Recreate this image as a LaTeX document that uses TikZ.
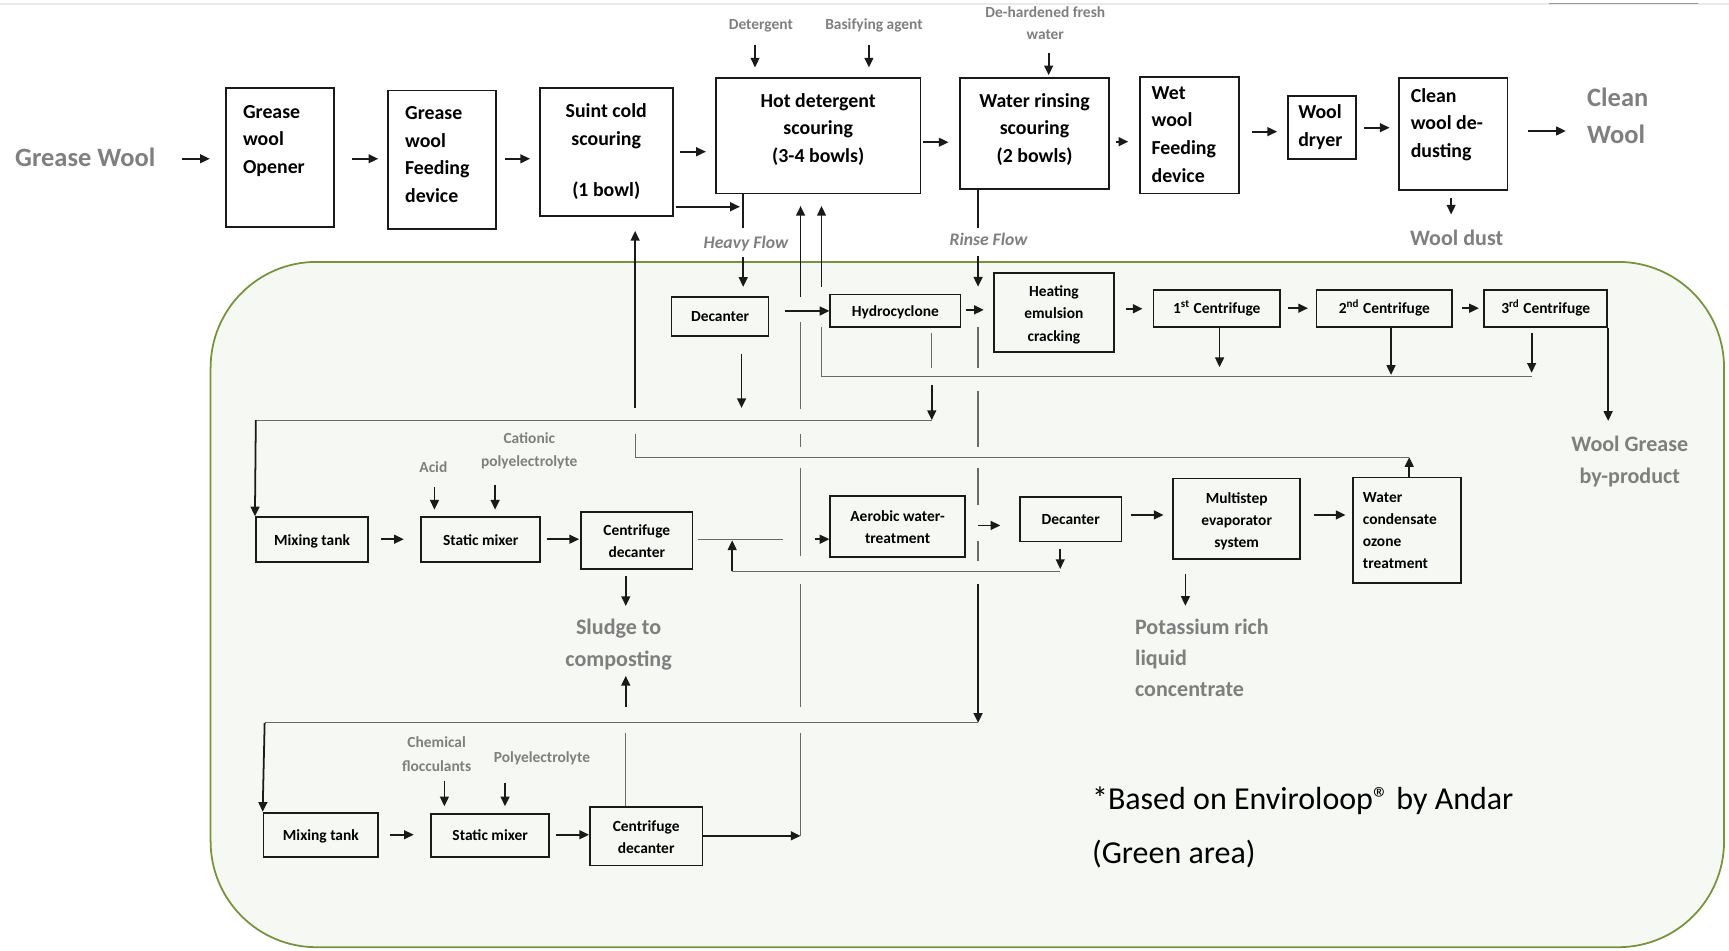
\documentclass[tikz,border=0pt]{standalone}
\usepackage{fontspec}
\setmainfont{Carlito}
\usetikzlibrary{arrows.meta}
\definecolor{ink}{HTML}{1A1A1A}
\definecolor{lab}{HTML}{7F7F7F}
\definecolor{thin}{HTML}{6A6A6A}
\definecolor{gborder}{HTML}{77933C}
\definecolor{gfill}{HTML}{F6F8F3}
\newcommand{\toppad}[1]{\rule{0pt}{#1}}
\begin{document}
\begin{tikzpicture}[x=0.5pt,y=-0.5pt,
 bx/.style={draw=ink,line width=0.8pt,inner sep=0pt},
 arr/.style={draw=ink,line width=0.8pt,-{Triangle[length=4.4pt,width=4pt]}},
 lk/.style={draw=ink,line width=0.8pt},
 ln/.style={draw=thin,line width=0.55pt},
 txt/.style={inner sep=0pt,execute at begin node=\strut,execute at end node=\strut},
 tt/.style={txt,text=black,font=\fontsize{9}{12.5}\selectfont\bfseries},
 st/.style={inner sep=0pt,execute at begin node={\rule{0pt}{8pt}\strut},execute at end node=\strut,
            text=black,align=center,font=\fontsize{7}{10}\selectfont\bfseries},
 gl/.style={txt,text=lab,align=center,font=\fontsize{7}{10.5}\selectfont\bfseries},
 gm/.style={txt,text=lab,font=\fontsize{10}{14.25}\selectfont\bfseries},
 gb/.style={txt,text=lab,font=\fontsize{12}{16.7}\selectfont\bfseries},
 fl/.style={txt,text=lab,font=\fontsize{8}{10}\selectfont\bfseries\itshape},
]
\useasboundingbox (0,0) rectangle (1568,862);
% top edge lines
\draw[draw=black!8,line width=1pt] (0,3.5) -- (1568,3.5);
\draw[draw=black!40,line width=0.7pt] (1405,3) -- (1540,3);
% green area
\node[draw=gborder,fill=gfill,line width=0.8pt,rounded corners=48pt,inner sep=0pt,
      minimum width=686.25pt,minimum height=310.75pt] (green) at (877.25,548.25) {};

% ---------- top row ----------
\node[gb,anchor=west] (gw) at (13.4,144) {Grease Wool};
\node[bx,minimum width=49pt,minimum height=63pt] (opener) at (254,143) {};
\node[tt,anchor=west,align=left] (openerT) at (220,130) {Grease\\wool\\Opener};
\node[bx,minimum width=48.8pt,minimum height=62.85pt] (feed) at (400.8,144.9) {};
\node[tt,anchor=west,align=left] (feedT) at (367,144) {Grease\\wool\\Feeding\\device};
\node[bx,minimum width=60.25pt,minimum height=58pt] (suint) at (549.75,138) {};
\node[tt,align=center] (suintT) at (549.75,140) {Suint cold\\scouring\\[11pt](1 bowl)};
\node[bx,minimum width=92.9pt,minimum height=52.2pt] (hot) at (741.9,123.2) {};
\node[tt,align=center] (hotT) at (742,119.5) {Hot detergent\\scouring\\(3-4 bowls)};
\node[bx,minimum width=67.6pt,minimum height=50.35pt] (rinse) at (938.2,121.35) {};
\node[tt,align=center] (rinseT) at (938.2,119.5) {Water rinsing\\scouring\\(2 bowls)};
\node[bx,minimum width=44.8pt,minimum height=52.95pt] (wet) at (1078.8,122.45) {};
\node[tt,anchor=west,align=left] (wetT) at (1044,125.5) {Wet\\wool\\Feeding\\device};
\node[bx,minimum width=30.85pt,minimum height=28.5pt] (dryer) at (1198.85,115.5) {};
\node[tt,anchor=west,align=left] (dryerT) at (1177,117.5) {Wool\\dryer};
\node[bx,minimum width=49.15pt,minimum height=50.5pt] (clean) at (1317.85,121.5) {};
\node[tt,anchor=west,align=left] (cleanT) at (1279,115) {Clean\\wool de-\\dusting};
\node[gb,anchor=west,align=left] (cw) at (1439,110.2) {Clean\\Wool};
\node[gm] (wd) at (1321,217) {Wool dust};
\node[gl] (det) at (690,23) {Detergent};
\node[gl] (bas) at (792.6,23) {Basifying agent};
\node[gl,font=\fontsize{7}{10}\selectfont\bfseries] (dhw) at (948,24) {De-hardened fresh\\water};
\node[fl] (hflow) at (676.5,221) {Heavy Flow};
\node[fl] (rflow) at (896.5,219) {Rinse Flow};

% ---------- inner boxes ----------
\node[bx,st,minimum width=44pt,minimum height=18pt] (dec1) at (653,287) {Decanter};
\node[bx,st,minimum width=59pt,minimum height=14.75pt] (hydro) at (812,281.75) {Hydrocyclone};
\node[bx,st,minimum width=54.25pt,minimum height=35.75pt] (heat) at (955.75,283.25) {\toppad{9pt}Heating\\emulsion\\cracking};
\node[bx,st,minimum width=57.5pt,minimum height=16.75pt] (c1) at (1103.5,279.75) {1\textsuperscript{st} Centrifuge};
\node[bx,st,minimum width=61.5pt,minimum height=16.75pt] (c2) at (1255.5,279.75) {2\textsuperscript{nd} Centrifuge};
\node[bx,st,minimum width=55.8pt,minimum height=16.75pt] (c3) at (1401.8,279.75) {3\textsuperscript{rd} Centrifuge};
\node[bx,st,minimum width=51pt,minimum height=20.3pt] (mix1) at (283,489.3) {Mixing tank};
\node[bx,st,minimum width=54pt,minimum height=20.3pt] (sm1) at (436,489.3) {Static mixer};
\node[bx,st,minimum width=50.5pt,minimum height=26pt] (cd1) at (577.5,490) {\toppad{8.5pt}Centrifuge\\decanter};
\node[bx,st,minimum width=61pt,minimum height=27.5pt] (aer) at (814,477.5) {\toppad{8pt}Aerobic water-\\treatment};
\node[bx,st,minimum width=46pt,minimum height=20pt] (dec2) at (971,471) {Decanter};
\node[bx,st,minimum width=57.5pt,minimum height=36.5pt] (multi) at (1121.5,470.5) {\toppad{9pt}Multistep\\evaporator\\system};
\node[bx,st,align=left,text width=40pt,inner xsep=4.5pt,minimum width=49pt,minimum height=48pt] (wc) at (1276,481) {Water\\condensate\\ozone\\treatment};
\node[bx,st,minimum width=52pt,minimum height=20pt] (mix2) at (291,757) {Mixing tank};
\node[bx,st,minimum width=53.5pt,minimum height=19.5pt] (sm2) at (444.5,757.5) {Static mixer};
\node[bx,st,minimum width=51pt,minimum height=26.5pt] (cd2) at (586,758.5) {\toppad{8.5pt}Centrifuge\\decanter};

\node[gl] (acid) at (393,424) {Acid};
\node[gl] (cat) at (480,411) {Cationic\\polyelectrolyte};
\node[gl] (chem) at (396,687) {Chemical\\flocculants};
\node[gl] (poly) at (491.5,687.5) {Polyelectrolyte};
\node[gm,align=center] (sludge) at (561,587) {Sludge to\\composting};
\node[gm,anchor=west,align=left,font=\fontsize{10}{14}\selectfont\bfseries] (pot) at (1029,601) {Potassium rich\\liquid\\concentrate};
\node[gm,align=center,font=\fontsize{10}{14.5}\selectfont\bfseries] (wg) at (1478,421.5) {Wool Grease\\by-product};
\node[txt,anchor=west,align=left,text=black,font=\fontsize{14.5}{24.5}\selectfont] (note) at (990,755.5) {*Based on Enviroloop\textregistered{} by Andar\\(Green area)};

% ---------- top row connectors ----------
\draw[arr,shorten <=12pt,shorten >=7pt] (gw.east |- 0,144) -- (opener.west |- 0,144);
\draw[arr,shorten <=7.85pt,shorten >=4.1pt] (opener.east |- 0,144) -- (feed.west |- 0,144);
\draw[arr,shorten <=3.7pt,shorten >=4pt] (feed.east |- 0,144) -- (suint.west |- 0,144);
\draw[arr,shorten <=3pt,shorten >=4pt] (suint.east |- 0,137.6) -- (hot.west |- 0,137.6);
\draw[arr,shorten <=1.3pt] (suint.east |- 0,187.5) -- (671,187.5);
\draw[arr,shorten <=0.5pt,shorten >=4.8pt] (hot.east |- 0,129) -- (rinse.west |- 0,129);
\draw[arr,shorten <=2.6pt,shorten >=5pt] (rinse.east |- 0,128.5) -- (wet.west |- 0,128.5);
\draw[arr,shorten <=5.45pt,shorten >=4.5pt] (wet.east |- 0,119.4) -- (dryer.west |- 0,119.4);
\draw[arr,shorten <=3.15pt,shorten >=3.85pt] (dryer.east |- 0,115.8) -- (clean.west |- 0,115.8);
\draw[arr,shorten <=9pt,shorten >=9.5pt] (clean.east |- 0,118.8) -- (cw.west |- 0,118.8);
\draw[arr,shorten <=3.5pt,shorten >=3.9pt] (clean.south -| 1316,0) -- (wd.north -| 1316,0);
\draw[arr,shorten <=3.25pt,shorten >=4.5pt] (det.south -| 684.7,0) -- (hot.north -| 684.7,0);
\draw[arr,shorten <=3.25pt,shorten >=4.5pt] (bas.south -| 788,0) -- (hot.north -| 788,0);
\draw[arr,shorten <=3pt,shorten >=1pt] (dhw.south -| 951,0) -- (rinse.north -| 951,0);

% heavy flow
\draw[lk,shorten >=2pt] (hot.south -| 674,0) -- (hflow.north -| 674,0);
\draw[arr,shorten <=1pt,shorten >=4pt] (hflow.south -| 674,0) -- (dec1.north -| 674,0);
% rinse flow
\draw[lk,shorten >=1pt] (rinse.south -| 887,0) -- (rflow.north -| 887,0);
\draw[arr,shorten <=1.5pt] (rflow.south -| 887,0) -- (887,260);
\draw[ln] (887,296.5) -- (887,334);
\draw[ln] (887,355) -- (887,405);
\draw[ln] (887,424) -- (887,458);
\draw[ln] (887,491) -- (887,509);
\draw[arr] (887,530) -- (887,655.5);
\draw[ln] (887,655.5) -- (240,655.5);
\draw[arr] (240,655.5) -- (mix2.north west);

% ---------- upper green connectors ----------
\draw[arr,shorten <=7pt] (dec1.east |- 0,282) -- (hydro.west |- 0,282);
\draw[arr,shorten <=2.3pt,shorten >=4.25pt] (hydro.east |- 0,281) -- (heat.west |- 0,281);
\draw[arr,shorten <=5pt,shorten >=4.5pt] (heat.east |- 0,280) -- (c1.west |- 0,280);
\draw[arr,shorten <=3pt,shorten >=3.5pt] (c1.east |- 0,279.5) -- (c2.west |- 0,279.5);
\draw[arr,shorten <=4pt,shorten >=2pt] (c2.east |- 0,279.5) -- (c3.west |- 0,279.5);
\draw[arr] (c1.south -| 1106,0) -- (1106,333);
\draw[arr] (c2.south -| 1261.5,0) -- (1261.5,340);
\draw[arr,shorten <=2.25pt] (c3.south -| 1389,0) -- (1389,338);
\draw[arr,shorten >=6.75pt] (c3.south east) -- (wg.north -| c3.south east);
% centrifuge water back to hot scouring
\draw[ln] (1389,341.6) -- (745,341.6) -- (745,296.5);
\draw[arr,shorten >=5.3pt] (745,260) -- (hot.south -| 745,0);
% hydrocyclone underflow to mixing tank 1
\draw[ln,shorten <=2.25pt] (hydro.south -| 845,0) -- (845,334);
\draw[arr] (845,349) -- (845,381);
\draw[ln] (845,381) -- (232,381);
\draw[arr] (232,381) -- (mix1.north west);
% decanter underflow
\draw[arr,shorten <=7.5pt] (dec1.south -| 672.5,0) -- (672.5,370);
% condensate water back to suint
\draw[arr] (wc.north -| 1278,0) -- (1278,414.6);
\draw[ln] (1278,414.6) -- (576,414.6) -- (576,394);
\draw[arr,shorten >=6.3pt] (576,370) -- (suint.south -| 576,0);
% sludge line back to hot scouring
\draw[arr] (cd2.east |- 0,758) -- (726,758);
\draw[ln] (726,758) -- (726,665);
\draw[ln] (726,641) -- (726,530);
\draw[ln] (726,504) -- (726,424);
\draw[ln] (726,405) -- (726,394);
\draw[ln] (726,371) -- (726,292);
\draw[arr,shorten >=5.3pt] (726,269) -- (hot.south -| 726,0);

% ---------- mixing chain 1 ----------
\draw[arr,shorten <=5.25pt,shorten >=7.5pt] (mix1.east |- 0,489) -- (sm1.west |- 0,489);
\draw[arr,shorten <=2.5pt,shorten >=0.5pt] (sm1.east |- 0,489) -- (cd1.west |- 0,489);
\draw[arr,shorten <=3.5pt,shorten >=3pt] (acid.south -| 394,0) -- (sm1.north -| 394,0);
\draw[arr,shorten <=4.75pt,shorten >=3pt] (cat.south -| 449,0) -- (sm1.north -| 449,0);
\draw[arr,shorten <=2.75pt,shorten >=5.75pt] (cd1.south -| 567.5,0) -- (sludge.north -| 567.5,0);
\draw[ln,shorten <=2pt] (cd1.east |- 0,489) -- (710,489);
\draw[arr] (739,489) -- (aer.west |- 0,489);
\draw[arr,shorten <=5.5pt,shorten >=8.5pt] (aer.east |- 0,476.5) -- (dec2.west |- 0,476.5);
\draw[arr,shorten <=3pt] (dec2.south -| 961.5,0) -- (961.5,516);
\draw[ln] (961.5,518) -- (664,518);
\draw[arr] (664,518) -- (664,490);
\draw[arr,shorten <=4pt,shorten >=4pt] (dec2.east |- 0,467) -- (multi.west |- 0,467);
\draw[arr,shorten <=6pt,shorten >=3pt] (multi.east |- 0,467) -- (wc.west |- 0,467);
\draw[arr,shorten <=6.5pt,shorten >=6pt] (multi.south -| 1075,0) -- (pot.north -| 1075,0);

% ---------- mixing chain 2 ----------
\draw[arr,shorten <=5pt,shorten >=7.5pt] (mix2.east |- 0,757) -- (sm2.west |- 0,757);
\draw[arr,shorten <=2.5pt] (sm2.east |- 0,757) -- (cd2.west |- 0,757);
\draw[arr,shorten <=1pt,shorten >=3pt] (chem.south -| 403,0) -- (sm2.north -| 403,0);
\draw[arr,shorten <=6pt,shorten >=3pt] (poly.south -| 458,0) -- (sm2.north -| 458,0);
\draw[ln] (cd2.north -| 567.5,0) -- (567.5,665);
\draw[arr] (567.5,641) -- (sludge.south -| 567.5,0);
\end{tikzpicture}
\end{document}
